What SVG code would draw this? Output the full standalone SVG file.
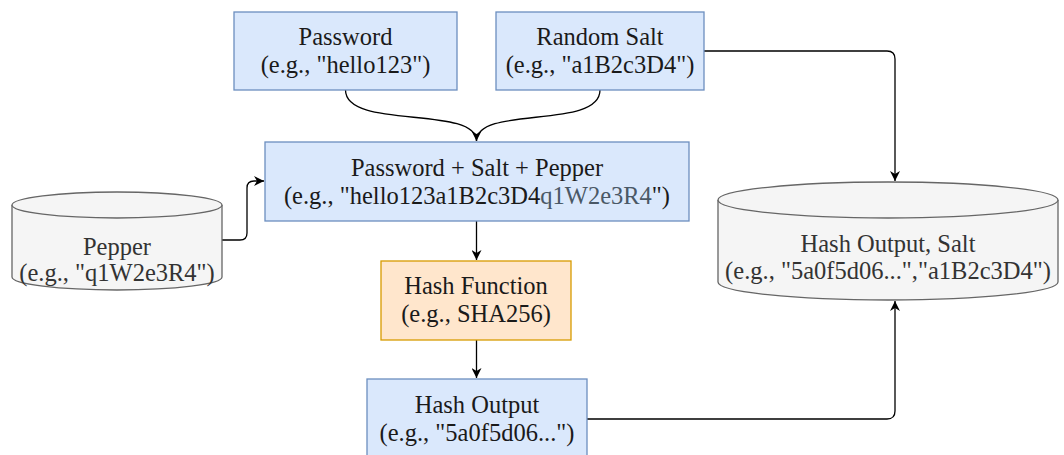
<svg xmlns="http://www.w3.org/2000/svg" width="1064" height="455" viewBox="0 0 1064 455">
<defs>
<style>
.blue{fill:#dae8fc;stroke:#6c8ebf;stroke-width:1.3}
.orange{fill:#ffe6cc;stroke:#d79b00;stroke-width:1.3}
.cyl{fill:#f5f5f5;stroke:#666666;stroke-width:1.3}
.t{font-family:"Liberation Serif","Times New Roman",serif;font-size:24.5px;fill:#1a1a1a;text-anchor:middle}
.tg{fill:#333333}
.edge{fill:none;stroke:#000000;stroke-width:1.3}
</style>
<marker id="arr" markerWidth="12" markerHeight="10" refX="10" refY="5" orient="auto" markerUnits="userSpaceOnUse">
<path d="M0,0 L10,5 L0,10 L3,5 z" fill="#000000"/>
</marker>
</defs>
<rect width="1064" height="455" fill="#ffffff"/>
<g id="connectors">
<path class="edge" d="M345.5,90 C345.5,130 476.5,105 476.5,141" marker-end="url(#arr)"/>
<path class="edge" d="M600,90 C600,130 476.5,105 476.5,141"/>
<path class="edge" d="M704,51 L887,51 Q895,51 895,59 L895,181" marker-end="url(#arr)"/>
<path class="edge" d="M222,240 L240,240 Q247,240 247,233 L247,188 Q247,181 254,181 L264,181" marker-end="url(#arr)"/>
<path class="edge" d="M476.5,221 L476.5,260" marker-end="url(#arr)"/>
<path class="edge" d="M476.5,340 L476.5,378" marker-end="url(#arr)"/>
<path class="edge" d="M587,419 L887,419 Q895,419 895,411 L895,301" marker-end="url(#arr)"/>
</g>
<g id="password">
<rect class="blue" x="234" y="12" width="223" height="78"/>
<text class="t" x="345.5" y="45">Password</text>
<text class="t" x="345.5" y="73">(e.g., "hello123")</text>
</g>
<g id="salt">
<rect class="blue" x="496" y="12" width="208" height="78"/>
<text class="t" x="600" y="45">Random Salt</text>
<text class="t" x="600" y="73">(e.g., "a1B2c3D4")</text>
</g>
<g id="combined">
<rect class="blue" x="265" y="142" width="424" height="79"/>
<text class="t" x="477" y="176">Password + Salt + Pepper</text>
<text class="t" x="477" y="204">(e.g., "hello123a1B2c3D4<tspan fill="#4a5866">q1W2e3R4</tspan>")</text>
</g>
<g id="pepper">
<path class="cyl" d="M12,205 A105,13 0 0 1 222,205 L222,277 A105,13 0 0 1 12,277 Z"/>
<path class="cyl" d="M12,205 A105,13 0 0 0 222,205" fill="none"/>
<text class="t tg" x="117" y="255">Pepper</text>
<text class="t tg" x="117" y="281">(e.g., "q1W2e3R4")</text>
</g>
<g id="hashfunction">
<rect class="orange" x="381" y="261" width="190" height="79"/>
<text class="t" x="476" y="294">Hash Function</text>
<text class="t" x="476" y="322">(e.g., SHA256)</text>
</g>
<g id="hashoutput">
<rect class="blue" x="367" y="379" width="220" height="80"/>
<text class="t" x="477" y="413">Hash Output</text>
<text class="t" x="477" y="441">(e.g., "5a0f5d06...")</text>
</g>
<g id="store">
<path class="cyl" d="M718,200 A170,18 0 0 1 1058,200 L1058,282 A170,18 0 0 1 718,282 Z"/>
<path class="cyl" d="M718,200 A170,18 0 0 0 1058,200" fill="none"/>
<text class="t tg" x="888" y="252">Hash Output, Salt</text>
<text class="t tg" x="888" y="279">(e.g., "5a0f5d06...","a1B2c3D4")</text>
</g>
</svg>
